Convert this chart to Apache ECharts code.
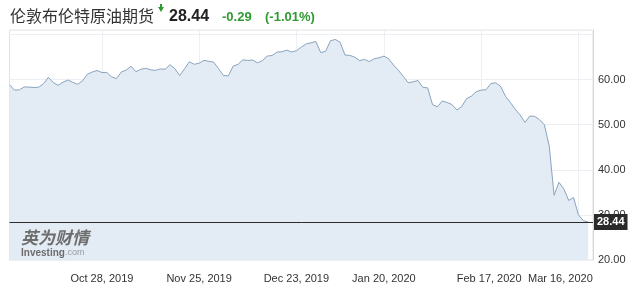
<!DOCTYPE html>
<html>
<head>
<meta charset="utf-8">
<script src="https://cdn.jsdelivr.net/npm/echarts@6/dist/echarts.min.js"></script>
<style>
html,body{margin:0;padding:0;background:#fff;}
#c{width:631px;height:285px;}
</style>
</head>
<body>
<div id="c"></div>
<script>
const dates = [
'2019-10-01','2019-10-02','2019-10-03','2019-10-04','2019-10-07','2019-10-08','2019-10-09','2019-10-10','2019-10-11','2019-10-14','2019-10-15','2019-10-16','2019-10-17','2019-10-18','2019-10-21','2019-10-22','2019-10-23','2019-10-24','2019-10-25','2019-10-28','2019-10-29','2019-10-30','2019-10-31',
'2019-11-01','2019-11-04','2019-11-05','2019-11-06','2019-11-07','2019-11-08','2019-11-11','2019-11-12','2019-11-13','2019-11-14','2019-11-15','2019-11-18','2019-11-19','2019-11-20','2019-11-21','2019-11-22','2019-11-25','2019-11-26','2019-11-27','2019-11-28','2019-11-29',
'2019-12-02','2019-12-03','2019-12-04','2019-12-05','2019-12-06','2019-12-09','2019-12-10','2019-12-11','2019-12-12','2019-12-13','2019-12-16','2019-12-17','2019-12-18','2019-12-19','2019-12-20','2019-12-23','2019-12-24','2019-12-26','2019-12-27','2019-12-30','2019-12-31',
'2020-01-02','2020-01-03','2020-01-06','2020-01-07','2020-01-08','2020-01-09','2020-01-10','2020-01-13','2020-01-14','2020-01-15','2020-01-16','2020-01-17','2020-01-20','2020-01-21','2020-01-22','2020-01-23','2020-01-24','2020-01-27','2020-01-28','2020-01-29','2020-01-30','2020-01-31',
'2020-02-03','2020-02-04','2020-02-05','2020-02-06','2020-02-07','2020-02-10','2020-02-11','2020-02-12','2020-02-13','2020-02-14','2020-02-17','2020-02-18','2020-02-19','2020-02-20','2020-02-21','2020-02-24','2020-02-25','2020-02-26','2020-02-27','2020-02-28',
'2020-03-02','2020-03-03','2020-03-04','2020-03-05','2020-03-06','2020-03-09','2020-03-10','2020-03-11','2020-03-12','2020-03-13','2020-03-16','2020-03-17','2020-03-18'
];
const prices = [
58.89,57.69,57.71,58.37,58.35,58.24,58.32,59.10,60.51,59.35,58.74,59.42,59.91,59.42,58.96,59.70,61.17,61.67,62.02,61.57,61.59,60.61,60.23,
61.69,62.13,62.96,61.74,62.29,62.51,62.18,62.06,62.37,62.28,63.30,62.44,60.91,62.40,63.97,63.39,63.65,64.27,64.06,63.87,62.43,
60.92,60.82,63.00,63.39,64.39,64.25,64.34,63.72,64.20,65.22,65.34,66.10,66.17,66.54,66.14,66.39,67.20,67.92,68.16,68.44,66.00,
66.25,68.60,68.91,68.27,65.44,65.37,64.98,64.20,64.49,64.00,64.62,64.85,65.20,64.59,63.21,62.04,60.69,59.32,59.51,59.81,58.29,58.16,
54.45,53.96,55.28,54.93,54.47,53.27,54.01,55.79,56.34,57.32,57.67,57.75,59.12,59.31,58.50,56.30,54.95,53.43,52.18,50.52,
51.90,51.86,51.13,49.99,45.27,34.36,37.22,35.79,33.22,33.85,30.05,28.73,28.44
];
const tickDates = ['2019-10-28','2019-11-25','2019-12-23','2020-01-20','2020-02-17','2020-03-16'];
const tickLabels = ['Oct 28, 2019','Nov 25, 2019','Dec 23, 2019','Jan 20, 2020','Feb 17, 2020','Mar 16, 2020'];
const titleText = '伦敦布伦特原油期货';
const lastPrice = 28.44;
const changeText = '-0.29';
const pctText = '(-1.01%)';

const green = '#2f9a31';
const chart = echarts.init(document.getElementById('c'), null, {renderer: 'canvas'});
const labelFont = '"Liberation Sans", Arial, sans-serif';

chart.setOption({
  animation: false,
  backgroundColor: '#fff',
  grid: {left: 9.5, right: 38, top: 30, bottom: 25, show: true, borderColor: '#e2e2e2', borderWidth: 1, backgroundColor: '#fff'},
  xAxis: {
    type: 'category',
    data: dates.concat(['']),
    boundaryGap: false,
    axisLine: {show: false},
    axisTick: {show: false},
    axisLabel: {
      interval: (i, v) => tickDates.includes(v),
      margin: 13,
      color: '#333',
      fontSize: 11,
      fontFamily: labelFont,
      formatter: (v) => {
        const k = tickDates.indexOf(v);
        if (k < 0) return '';
        if (k === 4) return '{a|' + tickLabels[k] + '}';
        if (k === 5) return '{b|' + tickLabels[k] + '}';
        return tickLabels[k];
      },
      rich: {
        a: {padding: [0, 0, 0, 16], fontSize: 11, color: '#333', fontFamily: labelFont},
        b: {padding: [0, 36, 0, 0], fontSize: 11, color: '#333', fontFamily: labelFont}
      }
    },
    splitLine: {show: true, interval: (i, v) => tickDates.includes(v), lineStyle: {color: '#eceff3', width: 1}}
  },
  yAxis: {
    type: 'value',
    position: 'right',
    min: 20, max: 71, interval: 10,
    axisLine: {show: true, lineStyle: {color: '#d6d6d6'}},
    axisTick: {show: false},
    axisLabel: {margin: 5, color: '#333', fontSize: 11, fontFamily: labelFont,
      formatter: v => (v >= 70 ? '' : v.toFixed(2))},
    splitLine: {show: true, lineStyle: {color: '#eceff3'}}
  },
  series: [{
    type: 'line',
    data: prices,
    showSymbol: false,
    silent: true,
    lineStyle: {color: '#8aa3bd', width: 1},
    areaStyle: {color: '#e3ebf4', opacity: 1},
    markLine: {
      silent: true,
      symbol: ['none', 'none'],
      lineStyle: {color: '#2b2b2b', width: 1, type: 'solid'},
      label: {
        position: 'end', distance: 1,
        formatter: lastPrice.toFixed(2),
        backgroundColor: '#2b2b2b', color: '#fff', fontWeight: 'bold',
        fontSize: 11, fontFamily: labelFont, padding: [3, 3, 2, 3]
      },
      data: [{yAxis: lastPrice}]
    }
  }],
  graphic: [
    {type: 'text', z: 100, left: 10, top: 8, style: {text: titleText, font: '16px "Noto Sans CJK SC"', fill: '#333'}},
    {type: 'polygon', z: 100, shape: {points: [[158, 7], [164, 7], [161, 12]]}, style: {fill: green}},
    {type: 'rect', z: 100, shape: {x: 160, y: 4, width: 2, height: 4}, style: {fill: green}},
    {type: 'text', z: 100, left: 169, top: 9, style: {text: lastPrice.toFixed(2), font: 'bold 16px "Liberation Sans", Arial', fill: '#222'}},
    {type: 'text', z: 100, left: 222, top: 11, style: {text: changeText, font: 'bold 13px "Liberation Sans", Arial', fill: green}},
    {type: 'text', z: 100, left: 265, top: 11, style: {text: pctText, font: 'bold 13px "Liberation Sans", Arial', fill: green}},
    {type: 'text', z: 100, left: 21, top: 229, style: {text: '英为财情', font: 'italic bold 17px "Noto Sans CJK SC"', fill: '#6d6d6d'}},
    {type: 'text', z: 100, left: 21, top: 248, style: {
      text: '{i|Investing}{c|.com}',
      rich: {i: {font: 'bold 10px "Liberation Sans", Arial', fill: '#6d6d6d'}, c: {font: '9px "Liberation Sans", Arial', fill: '#9a9a9a'}}
    }}
  ]
});
</script>
</body>
</html>
